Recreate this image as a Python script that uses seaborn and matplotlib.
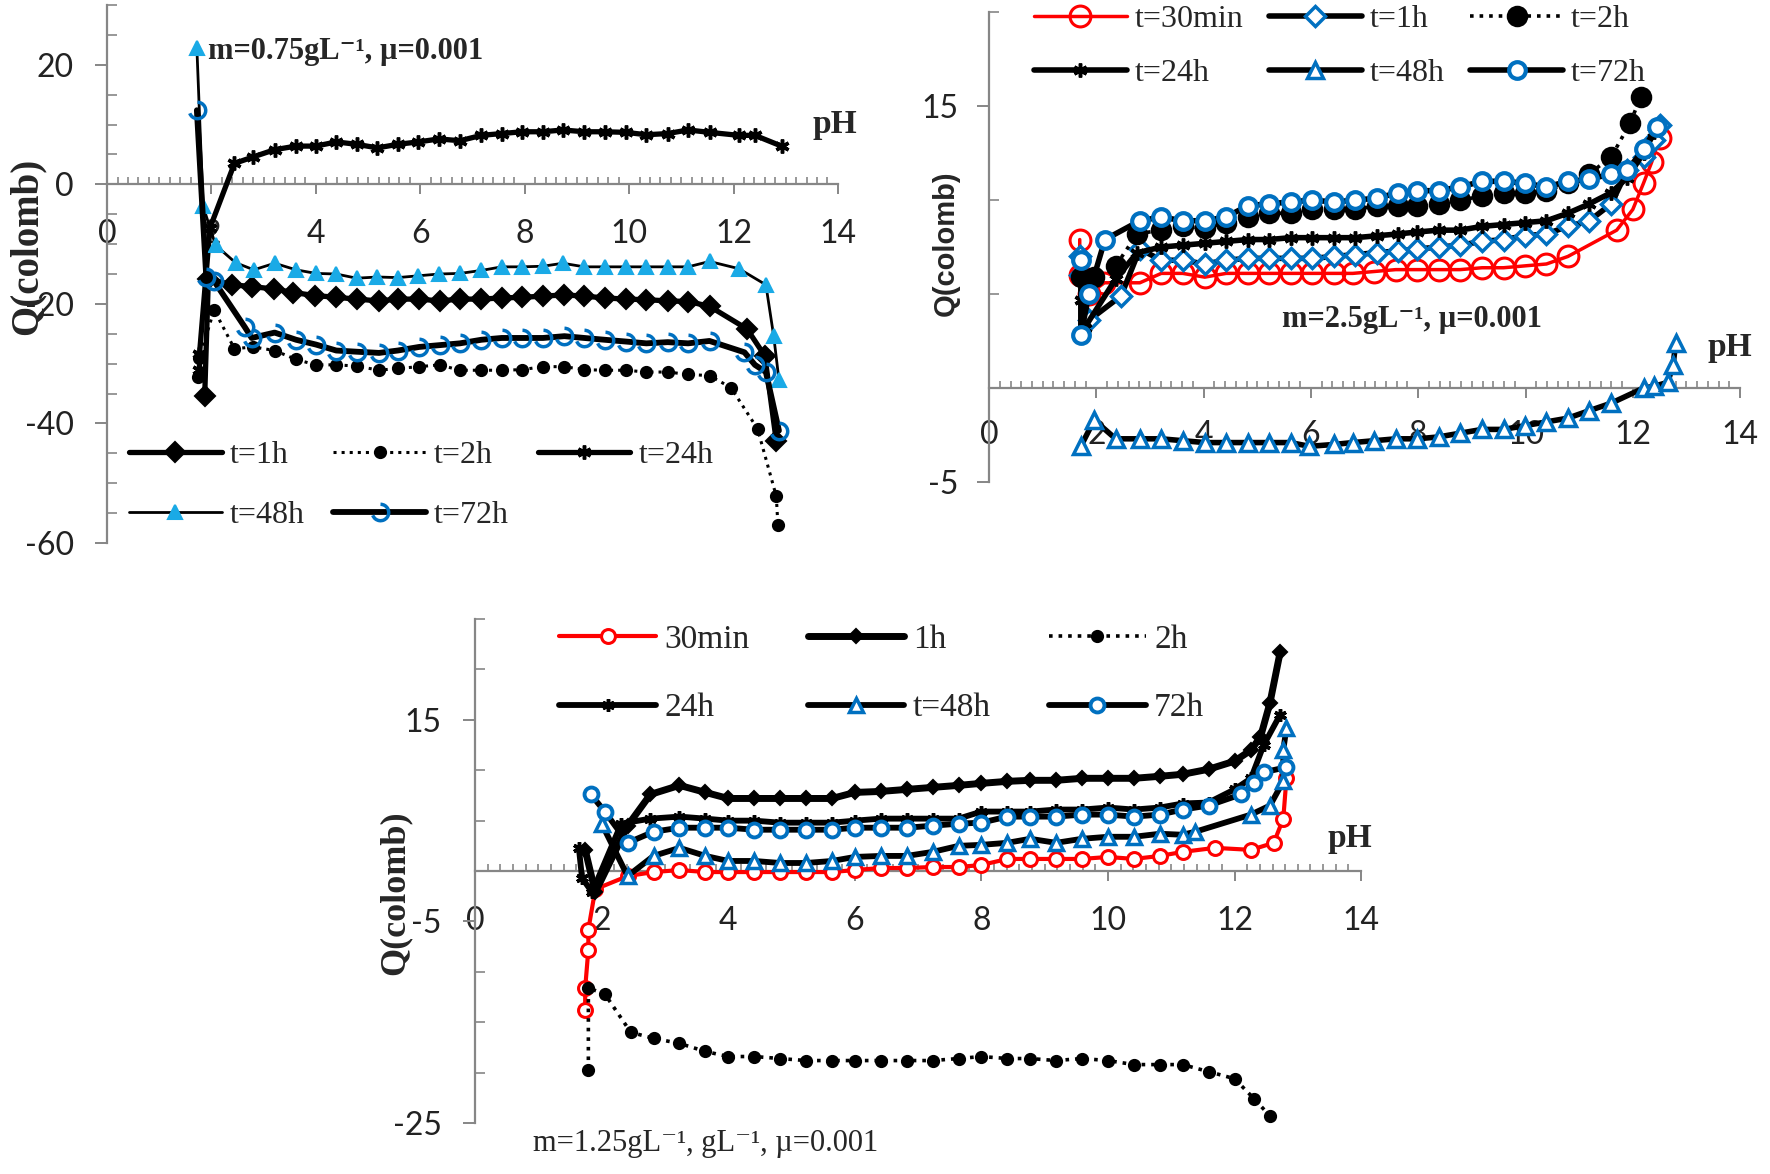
import matplotlib

matplotlib.use("Agg")
import matplotlib.pyplot as plt
import seaborn as sns
from matplotlib.path import Path
from matplotlib.ticker import MultipleLocator, FixedLocator

# ---- panel 1 : m = 0.75 g/L ----
p1_ph_1h = [1.87, 1.94, 2.39, 2.77, 3.19, 3.57, 3.98, 4.39, 4.78, 5.21, 5.57, 5.98, 6.37, 6.76, 7.17, 7.56,
            7.95, 8.35, 8.76, 9.14, 9.53, 9.94, 10.33, 10.74, 11.13, 11.54, 12.26, 12.6, 12.82]
p1_q_1h = [-35.4, -15.8, -16.8, -17.1, -17.5, -18.1, -18.6, -18.9, -19.2, -19.5, -19.2, -19.2, -19.5, -19.2,
           -19.2, -19.0, -18.9, -18.7, -18.5, -18.7, -19.0, -19.2, -19.3, -19.5, -19.6, -20.4, -24.2, -28.7, -43.0]
p1_ph_2h = [1.74, 1.77, 2.05, 2.44, 2.80, 3.21, 3.62, 4.00, 4.39, 4.78, 5.21, 5.57, 5.98, 6.37, 6.76, 7.17,
            7.56, 7.95, 8.35, 8.76, 9.14, 9.53, 9.94, 10.33, 10.74, 11.13, 11.54, 11.95, 12.46, 12.82, 12.85]
p1_q_2h = [-32.3, -29.0, -21.0, -27.5, -27.2, -27.8, -29.3, -30.2, -30.2, -30.4, -31.1, -30.8, -30.5, -30.2,
           -31.1, -31.1, -31.1, -31.0, -30.5, -30.5, -31.0, -31.1, -31.1, -31.4, -31.4, -31.8, -32.0, -34.0,
           -40.9, -52.2, -57.0]
p1_ph_24h = [1.77, 1.77, 1.97, 2.44, 2.80, 3.21, 3.62, 4.00, 4.39, 4.78, 5.18, 5.57, 5.96, 6.36, 6.76, 7.17,
             7.56, 7.95, 8.35, 8.73, 9.14, 9.53, 9.94, 10.33, 10.74, 11.13, 11.54, 12.10, 12.41, 12.92]
p1_q_24h = [-31.0, -28.4, -7.3, 3.5, 4.6, 5.8, 6.4, 6.4, 7.1, 6.7, 6.1, 6.7, 7.1, 7.6, 7.3, 8.2, 8.5, 8.8, 8.8,
            9.1, 8.8, 8.8, 8.7, 8.3, 8.5, 9.1, 8.7, 8.2, 8.2, 6.4]
p1_ph_48h = [1.72, 1.84, 2.08, 2.46, 2.81, 3.21, 3.62, 4.00, 4.39, 4.78, 5.18, 5.57, 5.96, 6.36, 6.76, 7.17,
             7.56, 7.95, 8.35, 8.73, 9.14, 9.53, 9.94, 10.33, 10.74, 11.13, 11.54, 12.10, 12.62, 12.77, 12.87]
p1_q_48h = [22.8, -3.7, -10.2, -13.1, -14.3, -13.2, -14.3, -14.9, -15.0, -15.7, -15.5, -15.6, -15.3, -15.0,
            -14.9, -14.4, -13.8, -13.8, -13.7, -13.2, -13.8, -13.8, -13.8, -13.8, -13.8, -13.8, -12.9, -14.1,
            -16.8, -25.4, -32.7]
p1_ph_72h = [1.72, 1.90, 2.05, 2.64, 2.77, 3.21, 3.62, 4.00, 4.39, 4.78, 5.21, 5.57, 5.98, 6.37, 6.76, 7.17,
             7.56, 7.95, 8.35, 8.76, 9.14, 9.53, 9.94, 10.33, 10.74, 11.13, 11.54, 12.21, 12.41, 12.62, 12.87]
p1_q_72h = [12.4, -15.5, -16.2, -23.9, -25.7, -24.8, -26.0, -26.8, -27.8, -28.0, -28.2, -27.8, -27.2, -26.9,
            -26.6, -26.0, -25.7, -25.7, -25.7, -25.4, -25.7, -26.0, -26.3, -26.6, -26.4, -26.6, -26.2, -28.1,
            -30.2, -31.4, -41.2]

# ---- panel 2 : m = 2.5 g/L ----
p2_ph_30m = [1.69, 1.69, 1.86, 2.15, 2.81, 3.21, 3.61, 4.02, 4.42, 4.82, 5.22, 5.62, 6.02, 6.43, 6.78, 7.18,
             7.58, 7.98, 8.38, 8.78, 9.19, 9.59, 9.99, 10.39, 10.79, 11.70, 12.00, 12.20, 12.35, 12.50]
p2_q_30m = [7.9, 6.0, 5.0, 5.6, 5.6, 6.1, 6.1, 5.9, 6.1, 6.1, 6.1, 6.1, 6.1, 6.1, 6.1, 6.2, 6.3, 6.3, 6.3, 6.3,
            6.4, 6.4, 6.5, 6.6, 7.0, 8.4, 9.5, 10.9, 12.0, 13.3]
p2_ph_1h = [1.69, 1.69, 1.86, 2.46, 2.81, 3.21, 3.61, 4.02, 4.42, 4.82, 5.22, 5.62, 6.02, 6.43, 6.83, 7.23,
            7.63, 7.98, 8.38, 8.78, 9.19, 9.59, 9.99, 10.39, 10.79, 11.19, 11.60, 11.90, 12.20, 12.40, 12.50]
p2_q_1h = [7.0, 6.0, 3.6, 4.9, 7.4, 6.8, 6.8, 6.6, 6.8, 6.9, 6.9, 6.9, 6.9, 7.0, 7.1, 7.2, 7.3, 7.4, 7.5, 7.6,
           7.8, 7.9, 8.1, 8.2, 8.6, 8.9, 9.8, 11.6, 12.3, 13.2, 14.0]
p2_ph_2h = [1.71, 1.96, 2.36, 2.76, 3.21, 3.61, 4.02, 4.42, 4.82, 5.22, 5.62, 6.02, 6.43, 6.83, 7.23, 7.63,
            7.98, 8.38, 8.78, 9.19, 9.59, 9.99, 10.39, 10.79, 11.19, 11.60, 11.95, 12.15]
p2_q_2h = [5.9, 5.9, 6.5, 8.2, 8.4, 8.6, 8.5, 8.8, 9.1, 9.3, 9.3, 9.5, 9.5, 9.5, 9.7, 9.7, 9.7, 9.8, 10.0, 10.2,
           10.4, 10.4, 10.5, 10.9, 11.4, 12.3, 14.1, 15.5]
p2_ph_24h = [1.71, 1.78, 2.36, 2.76, 3.21, 3.61, 4.02, 4.42, 4.82, 5.22, 5.62, 6.02, 6.43, 6.83, 7.23, 7.63,
             7.98, 8.38, 8.78, 9.19, 9.59, 9.99, 10.39, 10.79, 11.19, 11.60, 11.90, 12.20, 12.40]
p2_q_24h = [4.7, 3.2, 5.8, 7.2, 7.5, 7.6, 7.7, 7.8, 7.9, 7.9, 8.0, 8.0, 8.0, 8.0, 8.1, 8.2, 8.3, 8.4, 8.4, 8.6,
            8.7, 8.8, 8.9, 9.3, 9.8, 10.4, 11.2, 12.5, 13.6]
p2_ph_48h = [1.71, 1.96, 2.36, 2.81, 3.21, 3.61, 4.02, 4.42, 4.82, 5.22, 5.62, 5.97, 6.43, 6.78, 7.18, 7.58,
             7.98, 8.38, 8.78, 9.19, 9.59, 9.99, 10.39, 10.79, 11.19, 11.60, 12.20, 12.40, 12.65, 12.75, 12.80]
p2_q_48h = [-3.1, -1.7, -2.7, -2.7, -2.7, -2.8, -2.9, -2.9, -2.9, -2.9, -2.9, -3.1, -3.0, -2.9, -2.8, -2.7,
            -2.7, -2.6, -2.4, -2.2, -2.2, -2.0, -1.8, -1.6, -1.2, -0.8, 0.0, 0.1, 0.3, 1.2, 2.4]
p2_ph_72h = [1.71, 1.71, 1.86, 2.16, 2.81, 3.21, 3.61, 4.02, 4.42, 4.82, 5.22, 5.62, 6.02, 6.43, 6.83, 7.23,
             7.63, 7.98, 8.38, 8.78, 9.19, 9.59, 9.99, 10.39, 10.79, 11.19, 11.60, 11.90, 12.20, 12.45]
p2_q_72h = [6.8, 2.8, 5.0, 7.9, 8.9, 9.1, 8.9, 8.9, 9.1, 9.7, 9.8, 9.9, 10.0, 9.9, 10.0, 10.1, 10.4, 10.5,
            10.5, 10.7, 11.0, 11.0, 10.9, 10.7, 11.0, 11.1, 11.4, 11.6, 12.7, 13.9]

# ---- panel 3 : m = 1.25 g/L ----
p3_ph_30m = [1.74, 1.74, 1.79, 1.79, 1.90, 2.41, 2.82, 3.23, 3.64, 4.00, 4.41, 4.82, 5.23, 5.64, 6.00, 6.41,
             6.82, 7.23, 7.64, 8.00, 8.41, 8.77, 9.18, 9.59, 10.00, 10.41, 10.82, 11.18, 11.69, 12.26, 12.62,
             12.77, 12.82]
p3_q_30m = [-13.8, -11.6, -7.8, -5.8, -1.8, -0.5, -0.1, 0.1, -0.1, -0.1, -0.1, -0.1, -0.1, -0.1, 0.1, 0.3,
            0.3, 0.4, 0.4, 0.6, 1.2, 1.2, 1.2, 1.2, 1.4, 1.2, 1.5, 1.9, 2.3, 2.1, 2.8, 5.2, 9.2]
p3_ph_1h = [1.74, 1.90, 2.41, 2.77, 3.23, 3.64, 4.00, 4.41, 4.82, 5.23, 5.64, 6.00, 6.41, 6.82, 7.23, 7.64,
            8.00, 8.41, 8.77, 9.18, 9.59, 10.00, 10.41, 10.82, 11.18, 11.59, 12.00, 12.26, 12.41, 12.56, 12.72]
p3_q_1h = [2.1, -2.1, 4.5, 7.6, 8.5, 7.8, 7.2, 7.2, 7.2, 7.2, 7.2, 7.8, 7.9, 8.1, 8.3, 8.5, 8.7, 8.9, 9.0, 9.0,
           9.2, 9.2, 9.2, 9.4, 9.6, 10.1, 10.9, 12.0, 13.3, 16.7, 21.7]
p3_ph_2h = [1.79, 1.79, 2.05, 2.46, 2.82, 3.23, 3.64, 4.00, 4.41, 4.82, 5.23, 5.64, 6.00, 6.41, 6.82, 7.23,
            7.64, 8.00, 8.41, 8.77, 9.18, 9.59, 10.00, 10.41, 10.82, 11.18, 11.59, 12.00, 12.31, 12.56]
p3_q_2h = [-19.7, -11.6, -12.2, -16.0, -16.6, -17.1, -17.9, -18.4, -18.4, -18.6, -18.8, -18.8, -18.8, -18.8,
           -18.8, -18.8, -18.6, -18.4, -18.6, -18.6, -18.8, -18.6, -18.8, -19.2, -19.2, -19.2, -19.9, -20.6,
           -22.6, -24.3]
p3_ph_24h = [1.64, 1.69, 1.85, 2.31, 2.77, 3.23, 3.64, 4.00, 4.41, 4.82, 5.23, 5.64, 6.00, 6.41, 6.82, 7.23,
             7.64, 8.00, 8.41, 8.77, 9.18, 9.59, 10.00, 10.41, 10.82, 11.18, 11.59, 12.00, 12.26, 12.46, 12.72]
p3_q_24h = [2.3, -0.7, -2.1, 4.7, 5.2, 5.4, 5.2, 5.0, 5.0, 4.8, 4.8, 4.8, 5.0, 5.2, 5.2, 5.2, 5.2, 5.9, 5.9,
            5.9, 6.1, 6.1, 6.3, 6.1, 6.3, 6.7, 6.8, 8.1, 9.2, 12.5, 15.5]
p3_ph_48h = [2.00, 2.41, 2.82, 3.23, 3.64, 4.00, 4.41, 4.82, 5.23, 5.64, 6.00, 6.41, 6.82, 7.23, 7.64, 8.00,
             8.41, 8.77, 9.18, 9.59, 10.00, 10.41, 10.82, 11.18, 11.38, 12.26, 12.56, 12.77, 12.77, 12.82]
p3_q_48h = [4.7, -0.5, 1.5, 2.3, 1.5, 1.0, 1.0, 0.8, 0.8, 1.0, 1.4, 1.5, 1.5, 1.9, 2.5, 2.6, 2.8, 3.2, 2.8,
            3.2, 3.4, 3.4, 3.7, 3.6, 3.9, 5.6, 6.5, 8.9, 12.0, 14.2]
p3_ph_72h = [1.83, 2.05, 2.41, 2.82, 3.23, 3.64, 4.00, 4.41, 4.82, 5.23, 5.64, 6.00, 6.41, 6.82, 7.23, 7.64,
             8.00, 8.41, 8.77, 9.18, 9.59, 10.00, 10.41, 10.82, 11.18, 11.59, 12.10, 12.31, 12.46, 12.82]
p3_q_72h = [7.6, 5.9, 2.8, 3.9, 4.3, 4.3, 4.3, 4.1, 4.1, 4.1, 4.1, 4.3, 4.3, 4.3, 4.5, 4.7, 4.8, 5.4, 5.4,
            5.4, 5.6, 5.6, 5.4, 5.6, 6.1, 6.5, 7.6, 8.7, 9.8, 10.3]

x_ticks = [0, 2, 4, 6, 8, 10, 12, 14]

RED = "#FF0000"
BLUE = "#0070C0"
LIGHT_BLUE = "#1AAAE6"
GREY = "#868686"
SERIF = ["Liberation Serif", "DejaVu Serif"]
TICK_FONT = "Lato"

ARC = Path.arc(200, 450)
STAR = (6, 2, 0)

sns.set_theme(style="white")
plt.rcParams["font.family"] = ["Liberation Serif", "DejaVu Serif"]
plt.rcParams["axes.unicode_minus"] = False

fig = plt.figure(figsize=(17.7, 11.74), dpi=100)


def setup_axes(ax, ymin, ymax, y_major, pad_x, pad_y):
    ax.set_xlim(0, 14)
    ax.set_ylim(ymin, ymax)
    for side in ("top", "right"):
        ax.spines[side].set_visible(False)
    ax.spines["bottom"].set_position(("data", 0))
    for side in ("left", "bottom"):
        ax.spines[side].set_color(GREY)
        ax.spines[side].set_linewidth(1.6)
    ax.xaxis.set_major_locator(FixedLocator(x_ticks))
    ax.xaxis.set_minor_locator(MultipleLocator(0.2))
    ax.yaxis.set_major_locator(FixedLocator(y_major))
    ax.yaxis.set_minor_locator(MultipleLocator(5))
    ax.tick_params(which="both", bottom=True, left=True, top=False, right=False)
    ax.tick_params(axis="x", which="major", direction="out", length=7, width=1.4, color=GREY,
                   labelsize=23, labelcolor="#222222", pad=pad_x)
    ax.tick_params(axis="x", which="minor", direction="in", length=5, width=1.2, color=GREY)
    ax.tick_params(axis="y", which="major", direction="out", length=9, width=1.4, color=GREY,
                   labelsize=23, labelcolor="#222222", pad=pad_y)
    ax.tick_params(axis="y", which="minor", direction="in", length=7, width=1.2, color=GREY)
    for lab in ax.get_xticklabels() + ax.get_yticklabels():
        lab.set_fontfamily(TICK_FONT)
    ax.set_xlabel("")
    ax.set_ylabel("")
    ax.grid(False)
    ax.set_facecolor("none")


def draw(ax, ph, q, label, color="black", lw=3.5, ls="-", marker="o", ms=10, mfc="black", mec="black", mew=1.5):
    sns.lineplot(x=ph, y=q, ax=ax, estimator=None, sort=False, color=color, linewidth=lw, linestyle=ls,
                 marker=marker, markersize=ms, markerfacecolor=mfc, markeredgecolor=mec, markeredgewidth=mew,
                 label=label, zorder=3, clip_on=False)
    return ax.lines[-1]


def row_legend(ax, handles, labels, anchor, size, ncol=3, spacing=0.9, colspace=0.9):
    # excel fills legend rows first, matplotlib fills columns first
    order = []
    nrow = (len(handles) + ncol - 1) // ncol
    for c in range(ncol):
        for r in range(nrow):
            i = r * ncol + c
            if i < len(handles):
                order.append(i)
    ax.legend([handles[i] for i in order], [labels[i] for i in order], ncol=ncol, loc="upper left",
              bbox_to_anchor=anchor, frameon=False, handlelength=2.9, handletextpad=0.25,
              columnspacing=colspace, labelspacing=spacing, borderpad=0, borderaxespad=0,
              prop={"family": SERIF, "size": size})


# ---------------- panel 1 ----------------
ax1 = fig.add_axes([0.0605, 0.5375, 0.4129, 0.4582])
h = []
h.append(draw(ax1, p1_ph_1h, p1_q_1h, "t=1h", lw=3.8, marker="D", ms=10))
h.append(draw(ax1, p1_ph_2h, p1_q_2h, "t=2h", lw=2.2, ls=":", marker="o", ms=8))
h.append(draw(ax1, p1_ph_24h, p1_q_24h, "t=24h", lw=3.8, marker=STAR, ms=10, mew=2.5))
h.append(draw(ax1, p1_ph_48h, p1_q_48h, "t=48h", lw=2.0, marker="^", ms=10, mfc=LIGHT_BLUE, mec=LIGHT_BLUE))
h.append(draw(ax1, p1_ph_72h, p1_q_72h, "t=72h", lw=4.2, marker=ARC, ms=12, mfc="none", mec=BLUE, mew=2.5))
setup_axes(ax1, -60, 30, [-60, -40, -20, 0, 20], 18, 15)
row_legend(ax1, h, ["t=1h", "t=2h", "t=24h", "t=48h", "t=72h"], (0.03, 0.19), 23, spacing=0.95)
ax1.text(1.94, 22.3, "m=0.75gL⁻¹, µ=0.001", fontsize=22, fontweight="bold", family=SERIF, ha="left", va="center")
ax1.text(13.95, 10, "pH", fontsize=24, fontweight="bold", family=SERIF, ha="center", va="center")
fig.text(0.0155, 0.79, "Q(colomb)", rotation=90, fontsize=28, fontweight="bold", family=SERIF,
         ha="center", va="center")

# ---------------- panel 2 ----------------
ax2 = fig.add_axes([0.5588, 0.5894, 0.4243, 0.4003])
h = []
h.append(draw(ax2, p2_ph_30m, p2_q_30m, "t=30min", color=RED, lw=2.5, marker="o", ms=15, mfc="none", mec=RED, mew=2.2))
h.append(draw(ax2, p2_ph_1h, p2_q_1h, "t=1h", lw=4.0, marker="D", ms=10, mfc="white", mec=BLUE, mew=2.5))
h.append(draw(ax2, p2_ph_2h, p2_q_2h, "t=2h", lw=2.6, ls=":", marker="o", ms=14))
h.append(draw(ax2, p2_ph_24h, p2_q_24h, "t=24h", lw=4.0, marker=STAR, ms=10, mew=2.5))
h.append(draw(ax2, p2_ph_48h, p2_q_48h, "t=48h", lw=4.0, marker="^", ms=11, mfc="white", mec=BLUE, mew=2.5))
h.append(draw(ax2, p2_ph_72h, p2_q_72h, "t=72h", lw=4.0, marker="o", ms=12, mfc="white", mec=BLUE, mew=3.0))
setup_axes(ax2, -5, 20, [-5, 15], 16, 13)
row_legend(ax2, h, ["t=30min", "t=1h", "t=2h", "t=24h", "t=48h", "t=72h"], (0.06, 1.015), 23, spacing=0.75,
           colspace=0.8)
ax2.text(7.89, 3.66, "m=2.5gL⁻¹, µ=0.001", fontsize=22, fontweight="bold", family=SERIF, ha="center", va="center")
ax2.text(13.8, 2.16, "pH", fontsize=24, fontweight="bold", family=SERIF, ha="center", va="center")
fig.text(0.5345, 0.793, "Q(colomb)", rotation=90, fontsize=21, fontweight="bold",
         family=["Liberation Sans", "DejaVu Sans"], ha="center", va="center")

# ---------------- panel 3 ----------------
ax3 = fig.add_axes([0.2684, 0.0434, 0.5006, 0.4293])
h = []
h.append(draw(ax3, p3_ph_30m, p3_q_30m, "30min", color=RED, lw=3.0, marker="o", ms=10, mfc="white", mec=RED, mew=2.2))
h.append(draw(ax3, p3_ph_1h, p3_q_1h, "1h", lw=5.0, marker="D", ms=7))
h.append(draw(ax3, p3_ph_2h, p3_q_2h, "2h", lw=2.6, ls=":", marker="o", ms=8))
h.append(draw(ax3, p3_ph_24h, p3_q_24h, "24h", lw=4.2, marker=STAR, ms=9, mew=2.5))
h.append(draw(ax3, p3_ph_48h, p3_q_48h, "t=48h", lw=4.2, marker="^", ms=10, mfc="white", mec=BLUE, mew=2.5))
h.append(draw(ax3, p3_ph_72h, p3_q_72h, "72h", lw=4.2, marker="o", ms=10, mfc="white", mec=BLUE, mew=2.8))
setup_axes(ax3, -25, 25, [-25, -5, 15], 18, 15)
row_legend(ax3, h, ["30min", "1h", "2h", "24h", "t=48h", "72h"], (0.095, 0.99), 24, spacing=1.15,
           colspace=1.75)
ax3.text(13.82, 3.25, "pH", fontsize=24, fontweight="bold", family=SERIF, ha="center", va="center")
ax3.text(3.64, -25.6, "m=1.25gL⁻¹, gL⁻¹, µ=0.001", fontsize=22, family=SERIF, ha="center", va="top")
fig.text(0.2232, 0.240, "Q(colomb)", rotation=90, fontsize=26, fontweight="bold", family=SERIF,
         ha="center", va="center")

fig.savefig("out.png", dpi=100)
